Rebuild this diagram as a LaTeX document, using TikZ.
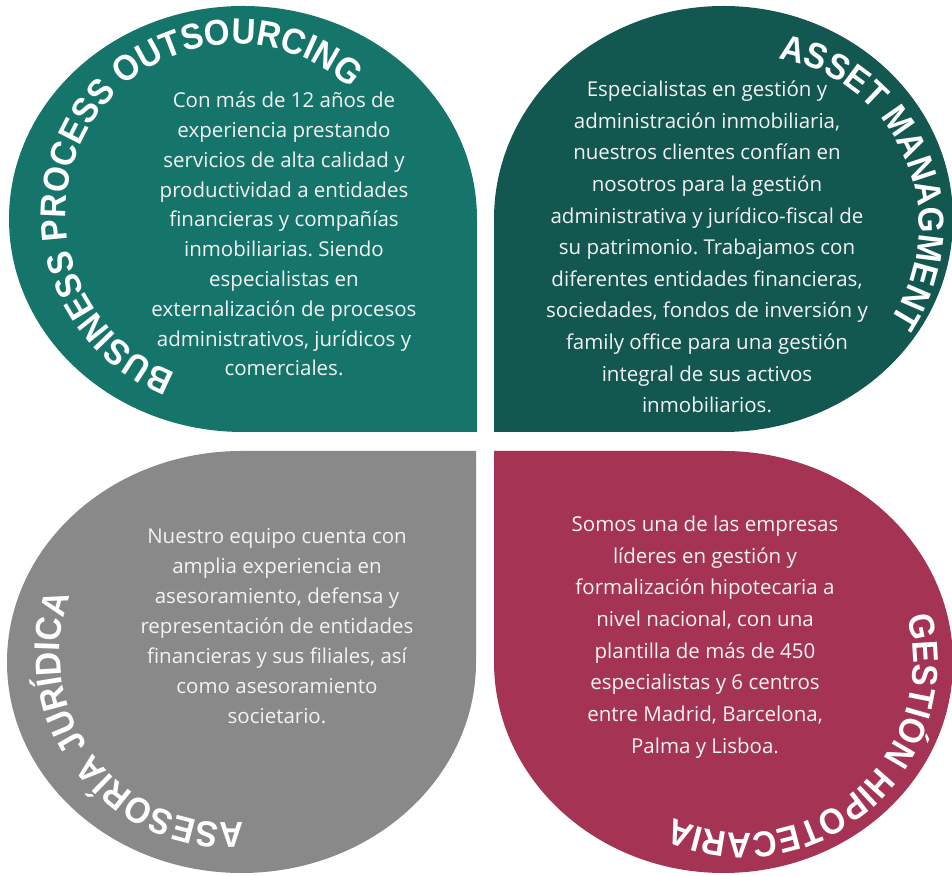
\documentclass[tikz,border=0pt]{standalone}
\usepackage{fontspec}
\setmainfont{Open Sans}
\newfontfamily\ttlfamily{Liberation Sans}[FakeStretch=0.92]
\usetikzlibrary{decorations.text}
\definecolor{tealA}{RGB}{22,117,107}
\definecolor{tealB}{RGB}{18,87,80}
\definecolor{grayA}{RGB}{137,137,137}
\definecolor{crim}{RGB}{164,51,84}
\definecolor{bodytxt}{RGB}{243,243,243}
\newcommand\ttlfmt{\ttlfamily\bfseries\fontsize{36}{36}\selectfont}
\frenchspacing
\tikzset{
  body/.style={text=bodytxt, align=center, inner sep=0pt},
  ttl/.style={decorate,decoration={text along path,text align=center,text color=white,text={|\ttlfmt|#1}}},
}
\begin{document}
\begin{tikzpicture}[x=1pt,y=1pt]
\useasboundingbox (0,0) rectangle (952,875);
\clip (0,0) rectangle (952,875);
% petals
\fill[tealA] (477,443) -- (243,443)
  arc[start angle=270,end angle=180,x radius=234pt,y radius=213pt]
  arc[start angle=180,end angle=90,x radius=234pt,y radius=213pt]
  arc[start angle=90,end angle=0,x radius=234pt,y radius=213pt] -- cycle;
\fill[tealB] (494,443) -- (494,656)
  arc[start angle=180,end angle=90,x radius=229.5pt,y radius=213pt]
  arc[start angle=90,end angle=0,x radius=229.5pt,y radius=213pt]
  arc[start angle=0,end angle=-90,x radius=229.5pt,y radius=213pt] -- cycle;
\fill[grayA] (476,424) -- (476,213)
  arc[start angle=0,end angle=-90,x radius=234.5pt,y radius=211pt]
  arc[start angle=-90,end angle=-180,x radius=234.5pt,y radius=211pt]
  arc[start angle=180,end angle=90,x radius=234.5pt,y radius=211pt] -- cycle;
\fill[crim] (494,424) -- (723.5,424)
  arc[start angle=90,end angle=0,x radius=229.5pt,y radius=211pt]
  arc[start angle=0,end angle=-90,x radius=229.5pt,y radius=211pt]
  arc[start angle=-90,end angle=-180,x radius=229.5pt,y radius=211pt] -- cycle;
% titles
\path[ttl={BUSINESS PROCESS OUTSOURCING}]
  (236,661) ++(278.35:170pt) arc[start angle=278.35,end angle=18.35,radius=170pt];
\path[ttl={ASSET MANAGMENT}]
  (749,649) ++(153:170pt) arc[start angle=153,end angle=-107,radius=170pt];
\path[ttl={ASESORÍA JURÍDICA}]
  (230,222) ++(347.4:170pt) arc[start angle=347.4,end angle=87.4,radius=170pt];
\path[ttl={GESTIÓN HIPOTECARIA}]
  (743,212) ++(80.7:170pt) arc[start angle=80.7,end angle=-179.3,radius=170pt];
% body texts
\node[body,font=\fontsize{20.5}{29.8}\selectfont] (tl) at (284,641) {Con más de 12 años de\\experiencia prestando\\servicios de alta calidad y\\productividad a entidades\\financieras y compañías\\inmobiliarias. Siendo\\especialistas en\\externalización de procesos\\administrativos, jurídicos y\\comerciales.};
\node[body,font=\fontsize{20.5}{31.6}\selectfont] (tr) at (707,628) {Especialistas en gestión y\\administración inmobiliaria,\\nuestros clientes confían en\\nosotros para la gestión\\administrativa y jurídico-fiscal de\\su patrimonio. Trabajamos con\\diferentes entidades financieras,\\sociedades, fondos de inversión y\\family office para una gestión\\integral de sus activos\\inmobiliarios.};
\node[body,font=\fontsize{20.5}{30}\selectfont] (bl) at (277,249) {Nuestro equipo cuenta con\\amplia experiencia en\\asesoramiento, defensa y\\representación de entidades\\financieras y sus filiales, así\\como asesoramiento\\societario.};
\node[body,font=\fontsize{20.5}{31.7}\selectfont] (br) at (705,238) {Somos una de las empresas\\líderes en gestión y\\formalización hipotecaria a\\nivel nacional, con una\\plantilla de más de 450\\especialistas y 6 centros\\entre Madrid, Barcelona,\\Palma y Lisboa.};
\end{tikzpicture}
\end{document}
